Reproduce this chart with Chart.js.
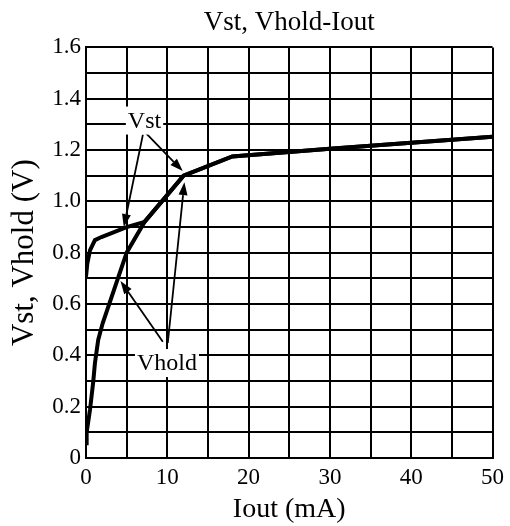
<!DOCTYPE html>
<html>
<head>
<meta charset="utf-8">
<script src="https://cdn.jsdelivr.net/npm/chart.js@4/dist/chart.umd.min.js"></script>
<style>
  html, body { margin: 0; background: #fff; }
  #wrap { width: 510px; height: 526px; }
</style>
</head>
<body>
<div id="wrap"><canvas id="myChart"></canvas></div>
<script>
// values
const vstIout = [0, 0.16, 0.5, 1.1, 1.9, 5, 7.2, 12, 18, 30, 40, 50];
const vstVolts = [0.706, 0.758, 0.81, 0.849, 0.861, 0.90, 0.92, 1.10, 1.175, 1.205, 1.228, 1.252];
const vholdIout = [0, 0.08, 0.5, 0.9, 1.1, 1.5, 2.05, 5, 7.2, 12, 18, 30, 40, 50];
const vholdVolts = [0.057, 0.10, 0.19, 0.30, 0.37, 0.46, 0.525, 0.80, 0.92, 1.10, 1.175, 1.205, 1.228, 1.252];
const xTickLabels = [0, 10, 20, 30, 40, 50];
const yTickLabels = ['0', '0.2', '0.4', '0.6', '0.8', '1.0', '1.2', '1.4', '1.6'];

// callouts with arrows, in data units (mA, V)
const notes = [
    {text: 'Vst', x: 7.2, y: 1.315, arrows: [[7.0, 1.26, 4.65, 0.90], [7.4, 1.265, 11.9, 1.118]]},
    {text: 'Vhold', x: 9.96, y: 0.37, arrows: [[9.45, 0.453, 4.24, 0.69], [10.06, 0.448, 12.1, 1.075]]}
];

const serif = 'Liberation Serif';

function toPoints(xs, ys) {
    return xs.map((x, i) => ({x: x, y: ys[i]}));
}

const calloutPlugin = {
    id: 'callouts',
    afterDatasetsDraw(chart) {
        const ctx = chart.ctx;
        const sx = chart.scales.x, sy = chart.scales.y;
        ctx.save();
        ctx.strokeStyle = '#000';
        ctx.fillStyle = '#000';
        ctx.lineWidth = 1.8;
        notes.forEach(n => {
            n.arrows.forEach(a => {
                const x0 = sx.getPixelForValue(a[0]), y0 = sy.getPixelForValue(a[1]);
                const x1 = sx.getPixelForValue(a[2]), y1 = sy.getPixelForValue(a[3]);
                const ang = Math.atan2(y1 - y0, x1 - x0);
                const len = 13, half = 4.5;
                const bx = x1 - len * Math.cos(ang), by = y1 - len * Math.sin(ang);
                ctx.beginPath();
                ctx.moveTo(x0, y0);
                ctx.lineTo(bx, by);
                ctx.stroke();
                ctx.beginPath();
                ctx.moveTo(x1, y1);
                ctx.lineTo(bx + half * Math.sin(ang), by - half * Math.cos(ang));
                ctx.lineTo(bx - half * Math.sin(ang), by + half * Math.cos(ang));
                ctx.closePath();
                ctx.fill();
            });
        });
        ctx.font = '24px "' + serif + '"';
        ctx.textAlign = 'center';
        ctx.textBaseline = 'middle';
        notes.forEach(n => {
            const cx = sx.getPixelForValue(n.x), cy = sy.getPixelForValue(n.y);
            const w = ctx.measureText(n.text).width + 4;
            ctx.fillStyle = '#fff';
            ctx.fillRect(cx - w / 2, cy - 14, w, 28);
            ctx.fillStyle = '#000';
            ctx.fillText(n.text, cx, cy + 1);
        });
        ctx.restore();
    }
};

const data = {
    datasets: [{
        label: 'Vst',
        data: toPoints(vstIout, vstVolts),
        borderColor: '#000',
        borderWidth: 4,
        pointRadius: 0,
        tension: 0
    }, {
        label: 'Vhold',
        data: toPoints(vholdIout, vholdVolts),
        borderColor: '#000',
        borderWidth: 4,
        pointRadius: 0,
        tension: 0
    }]
};

const config = {
    type: 'line',
    data,
    options: {
        responsive: true,
        maintainAspectRatio: false,
        animation: false,
        layout: {padding: {left: 0, right: 15, top: 0, bottom: 0}},
        plugins: {
            legend: {display: false},
            tooltip: {enabled: false},
            title: {
                display: true,
                fullSize: false,
                text: 'Vst, Vhold-Iout',
                color: '#000',
                font: {family: serif, size: 27, weight: 'normal'},
                padding: {top: 7, bottom: 8}
            }
        },
        scales: {
            x: {
                type: 'linear',
                min: 0,
                max: 50,
                afterFit: s => { s.height = 68; },
                grid: {color: '#000', lineWidth: 2, drawTicks: false},
                border: {color: '#000', width: 2},
                ticks: {
                    stepSize: 5,
                    autoSkip: false,
                    maxRotation: 0,
                    padding: 6,
                    color: '#000',
                    font: {family: serif, size: 23},
                    callback: v => xTickLabels.includes(v) ? String(v) : ''
                },
                title: {
                    display: true,
                    text: 'Iout (mA)',
                    color: '#000',
                    font: {family: serif, size: 28},
                    padding: {top: 0, bottom: 0}
                }
            },
            y: {
                min: 0,
                max: 1.6,
                afterFit: s => { s.width = 86; },
                grid: {color: '#000', lineWidth: 2, drawTicks: false},
                border: {color: '#000', width: 2},
                ticks: {
                    stepSize: 0.1,
                    autoSkip: false,
                    padding: 5,
                    color: '#000',
                    font: {family: serif, size: 23},
                    callback: v => {
                        const k = Math.round(v * 10);
                        return k % 2 === 0 ? yTickLabels[k / 2] : '';
                    }
                },
                title: {
                    display: true,
                    text: 'Vst, Vhold (V)',
                    color: '#000',
                    font: {family: serif, size: 31},
                    padding: {top: 6, bottom: 0}
                }
            }
        }
    },
    plugins: [calloutPlugin]
};

const myChart = new Chart(document.querySelector('#myChart'), config);
</script>
</body>
</html>
